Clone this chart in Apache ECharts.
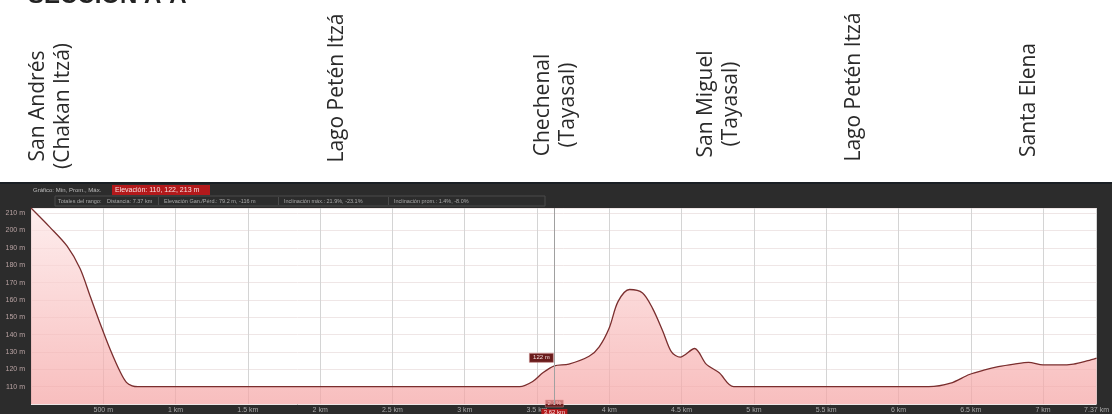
<!DOCTYPE html>
<html>
<head>
<meta charset="utf-8">
<script src="https://cdn.jsdelivr.net/npm/echarts@6/dist/echarts.min.js"></script>
<style>
  html, body { margin: 0; padding: 0; background: #ffffff; }
  #chart { width: 1112px; height: 414px; }
</style>
</head>
<body>
<div id="chart"></div>
<script>
// Perfil de elevación, Sección A-A (distancia en km, elevación en m)
const distKm = [0, 0.13, 0.25, 0.34, 0.41, 0.48, 0.55, 0.62, 0.66, 0.7, 0.74,
  3.38, 3.47, 3.54, 3.62, 3.72, 3.86, 3.93, 4.0, 4.06, 4.14, 4.23, 4.3, 4.37,
  4.43, 4.49, 4.59, 4.67, 4.76, 4.86,
  6.21, 6.36, 6.49, 6.59, 6.69, 6.8, 6.9, 7.0, 7.11, 7.21, 7.31, 7.37];
const elevM = [213, 202, 191, 178, 162, 146, 131, 118, 112.5, 110.5, 110,
  110, 113, 118, 122, 123, 127.5, 133, 144, 159, 166, 164, 155, 142,
  130, 127, 132, 123, 118, 110,
  110, 112, 117, 119.5, 121.5, 123, 124, 122.5, 122.5, 123, 125, 126.5];

// Lugares a lo largo del perfil
const placeNames = ['San Andrés\n(Chakan Itzá)', 'Lago Petén Itzá', 'Chechenal\n(Tayasal)',
  'San Miguel\n(Tayasal)', 'Lago Petén Itzá', 'Santa Elena'];
const placeKm = [0.135, 2.12, 3.63, 4.755, 5.69, 6.9];

// Cursor
const cursorKm = 3.62;
const cursorElev = 122;
const cursorSlope = '2.1%';

// Resumen
const titleText = 'SECCIÓN A-A';
const summaryRow1 = 'Gráfico: Mín, Prom., Máx.';
const summaryElev = 'Elevación: 110, 122, 213 m';
const summaryRow2 = ['Totales del rango:', 'Distancia: 7.37 km', 'Elevación Gan./Pérd.: 79.2 m, -116 m',
  'Inclinación máx.: 21.9%, -23.1%', 'Inclinación prom.: 1.4%, -8.0%'];

// Posición vertical (centro) de cada rótulo girado
const labelMidY = [106, 88, 105, 104, 87, 100];

const chart = echarts.init(document.getElementById('chart'), null, { renderer: 'canvas' });

const GRID = { left: 31, right: 14, top: 208, bottom: 6 };

chart.setOption({
  animation: false,
  backgroundColor: '#ffffff',
  grid: Object.assign({ show: true, backgroundColor: '#ffffff', borderWidth: 0 }, GRID),
  xAxis: {
    type: 'value', min: 0, max: 7.37, interval: 0.5,
    axisLine: { show: false }, axisTick: { show: false },
    splitLine: { show: true, lineStyle: { color: '#d4d4d4', width: 1 } },
    axisLabel: {
      color: '#a8a8a8', fontSize: 7, margin: 3, fontFamily: 'Liberation Sans',
      showMinLabel: false, showMaxLabel: true,
      formatter: v => v < 1 ? Math.round(v * 1000) + ' m' : (Math.round(v * 100) / 100) + ' km'
    }
  },
  yAxis: {
    type: 'value', min: 100, max: 213, interval: 10,
    axisLine: { show: false }, axisTick: { show: false },
    splitLine: { show: true, lineStyle: { color: '#efe6e6', width: 1 } },
    axisLabel: {
      color: '#b9a3a3', fontSize: 7, margin: 6, fontFamily: 'Liberation Sans',
      showMinLabel: false, showMaxLabel: false,
      formatter: v => v + ' m'
    }
  },
  series: [{
    type: 'line',
    data: distKm.map((d, i) => [d, elevM[i]]),
    smooth: 0.3,
    symbol: 'none',
    lineStyle: { color: '#7a2e2e', width: 1.3 },
    areaStyle: {
      color: new echarts.graphic.LinearGradient(0, 0, 0, 1, [
        { offset: 0, color: '#fde6e6' },
        { offset: 1, color: '#f5a2a2' }
      ])
    },
    markLine: {
      silent: true, symbol: 'none', label: { show: false },
      lineStyle: { color: '#a0a0a0', width: 1, type: 'solid' },
      data: [{ xAxis: cursorKm }]
    },
    markPoint: {
      silent: true,
      data: [{
        coord: [cursorKm, cursorElev], symbol: 'rect', symbolSize: [24, 9], symbolOffset: [-13, -8],
        itemStyle: { color: '#6a1c1c', borderColor: '#c98a8a', borderWidth: 0.5 },
        label: { show: true, formatter: cursorElev + ' m', color: '#f3dede', fontSize: 6, fontFamily: 'Liberation Sans' }
      }]
    }
  }]
});

function buildGraphics() {
  const g = [];
  // bloque oscuro del visor
  g.push({ type: 'rect', shape: { x: 0, y: 182, width: 1112, height: 232 }, style: { fill: '#2c2c2c' }, z: -10 });
  g.push({ type: 'rect', shape: { x: 0, y: 182, width: 1112, height: 2 }, style: { fill: '#1a1f24' }, z: -9 });
  // título
  g.push({ type: 'text', x: 28, y: 8, style: { text: titleText, font: 'bold 24px "Liberation Sans"', fill: '#222', textAlign: 'left', textVerticalAlign: 'bottom' } });

  // rótulos de lugares, girados
  placeNames.forEach((name, i) => {
    const px = chart.convertToPixel({ xAxisIndex: 0 }, placeKm[i]);
    g.push({
      type: 'text', x: px, y: labelMidY[i], rotation: Math.PI / 2,
      style: { text: name, font: '21px "Open Sans"', fill: '#2a2a2a', textAlign: 'center', textVerticalAlign: 'middle', lineHeight: 25 }
    });
  });

  // cabecera de resumen
  g.push({ type: 'text', x: 33, y: 190, style: { text: summaryRow1, font: '6px "Liberation Sans"', fill: '#bdbdbd', textVerticalAlign: 'middle' } });
  g.push({ type: 'rect', shape: { x: 112, y: 185, width: 98, height: 10 }, style: { fill: '#b3191b' } });
  g.push({ type: 'text', x: 115, y: 190, style: { text: summaryElev, font: '7px "Liberation Sans"', fill: '#f6e3e3', textVerticalAlign: 'middle' } });
  g.push({ type: 'rect', shape: { x: 55, y: 196, width: 490, height: 10 }, style: { fill: 'none', stroke: '#4a4a4a', lineWidth: 1 } });
  const row2X = [58, 107, 164, 284, 394];
  summaryRow2.forEach((t, i) => {
    g.push({ type: 'text', x: row2X[i], y: 201, style: { text: t, font: '5.5px "Liberation Sans"', fill: '#a9a9a9', textVerticalAlign: 'middle' } });
    if (i > 1) g.push({ type: 'rect', shape: { x: row2X[i] - 6, y: 197, width: 1, height: 8 }, style: { fill: '#4a4a4a' } });
  });

  // indicadores del cursor
  const cx = chart.convertToPixel({ xAxisIndex: 0 }, cursorKm);
  g.push({ type: 'rect', shape: { x: cx - 9, y: 400, width: 18, height: 7 }, style: { fill: '#6a1c1c', stroke: '#c98a8a', lineWidth: 0.5 } });
  g.push({ type: 'text', x: cx, y: 403.5, style: { text: cursorSlope, font: '6px "Liberation Sans"', fill: '#f3dede', textAlign: 'center', textVerticalAlign: 'middle' } });
  g.push({ type: 'rect', shape: { x: cx - 13, y: 409, width: 26, height: 6 }, style: { fill: '#b3191b' }, z: 20 });
  g.push({ type: 'text', x: cx, y: 412, z: 21, style: { text: cursorKm + ' km', font: '6px "Liberation Sans"', fill: '#f6e3e3', textAlign: 'center', textVerticalAlign: 'middle' } });
  return g;
}

chart.setOption({ graphic: buildGraphics() });
</script>
</body>
</html>
